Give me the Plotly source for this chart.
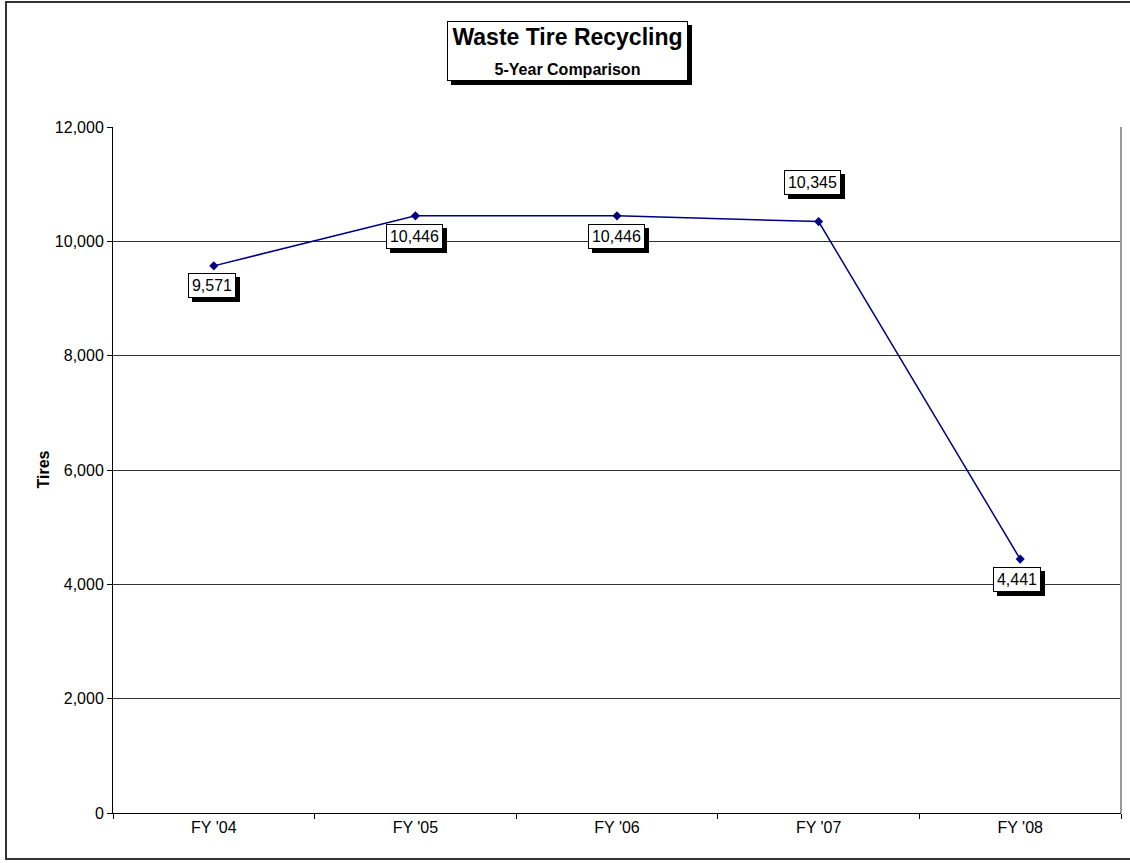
import plotly.graph_objects as go

# values
years = ["FY '04", "FY '05", "FY '06", "FY '07", "FY '08"]
tires = [9571, 10446, 10446, 10345, 4441]
label_yshift = [-20, -21, -21, 39, -20]
label_xshift = [-2, -1, -1, -6, -3]
y_ticks = [0, 2000, 4000, 6000, 8000, 10000, 12000]

FONT = "Arial, Liberation Sans, sans-serif"


def add_boxed_label(fig, text, width, height, shadow=4, **kw):
    """boxed label with a black drop shadow, excel style"""
    base = dict(showarrow=False, borderwidth=1, borderpad=0,
                width=width, height=height)
    base.update(kw)
    xs = base.pop("xshift", 0)
    ys = base.pop("yshift", 0)
    font = base.pop("font")
    # shadow box, no text in it
    fig.add_annotation(**base, text=" ", xshift=xs + shadow, yshift=ys - shadow,
                       bgcolor="black", bordercolor="black", font=font)
    fig.add_annotation(**base, text=text, xshift=xs, yshift=ys,
                       bgcolor="white", bordercolor="black", font=font)


fig = go.Figure()
fig.add_trace(go.Scatter(
    x=years, y=tires, mode="lines+markers",
    line=dict(color="#000080", width=1.5),
    marker=dict(symbol="diamond", size=7, color="#000080"),
    hoverinfo="x+y",
))

for yr, v, dx, dy in zip(years, tires, label_xshift, label_yshift):
    txt = f"{v:,}"
    add_boxed_label(fig, txt, width=len(txt) * 9 + 1, height=23,
                    xref="x", yref="y", x=yr, y=v, xshift=dx, yshift=dy,
                    font=dict(family=FONT, size=16, color="black"))

# title box
add_boxed_label(
    fig,
    "<b>Waste Tire Recycling</b><br><span style='font-size:16px'><b>5-Year Comparison</b></span>",
    width=239, height=58,
    xref="paper", yref="paper", x=(567.5 - 113) / 1008, y=(813 - 51) / 686,
    xanchor="center", yanchor="middle",
    font=dict(family=FONT, size=23, color="black"))

# y axis title
fig.add_annotation(text="<b>Tires</b>", xref="paper", yref="paper",
                   x=(32 - 113) / 1008, y=0.5, textangle=-90, showarrow=False,
                   font=dict(family=FONT, size=16, color="black"))

# outer chart border (cropped at the right side)
fig.add_shape(type="rect", xref="paper", yref="paper",
              x0=(6 - 113) / 1008, x1=(1140 - 113) / 1008,
              y0=(813 - 859) / 686, y1=(813 - 2) / 686,
              line=dict(color="#333333", width=2), layer="below")
# plot area frame: grey right edge
fig.add_shape(type="line", xref="paper", yref="paper", x0=1, x1=1, y0=0, y1=1,
              line=dict(color="#999999", width=2))

fig.update_layout(
    width=1130, height=863,
    margin=dict(l=113, r=9, t=127, b=50),
    paper_bgcolor="white", plot_bgcolor="white",
    showlegend=False,
    font=dict(family=FONT, size=16, color="black"),
    xaxis=dict(
        type="category", range=[-0.5, 4.5],
        showline=True, linecolor="black", linewidth=1,
        ticks="outside", tickson="boundaries", ticklen=5, tickcolor="black",
        showgrid=False, zeroline=False,
        tickfont=dict(family=FONT, size=16, color="black"),
    ),
    yaxis=dict(
        range=[0, 12000], tickvals=y_ticks, tickformat=",d",
        showline=True, linecolor="black", linewidth=1,
        ticks="outside", ticklen=5, tickcolor="black",
        showgrid=True, gridcolor="#333333", gridwidth=1, zeroline=False,
        tickfont=dict(family=FONT, size=16, color="black"),
    ),
)

fig.write_html("out.html", config={"displayModeBar": False},
               post_script="document.body.style.margin='0';")
